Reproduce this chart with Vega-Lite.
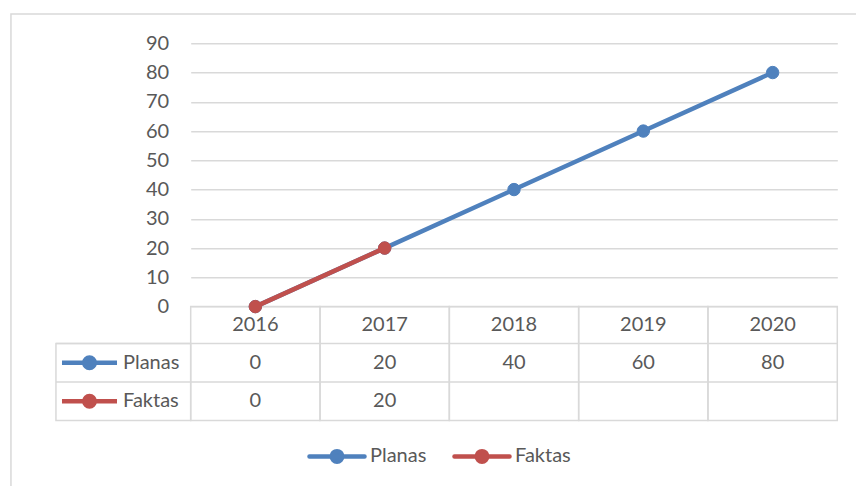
{
  "$schema": "https://vega.github.io/schema/vega-lite/v6.json",
  "width": 646.6,
  "height": 377.2,
  "autosize": {"type": "none"},
  "padding": {"left": 190.7, "top": 43.3, "right": 18.7, "bottom": 65.5},
  "background": "white",
  "config": {
    "view": {"stroke": null},
    "font": "Lato",
    "axisY": {
      "domain": false, "ticks": false, "tickSize": 0,
      "labelPadding": 22, "labelFont": "Lato", "labelFontSize": 20, "labelColor": "#595959",
      "grid": true, "gridColor": "#d9d9d9", "gridWidth": 1.5
    }
  },
  "data": {
    "values": [
      {"year": 2016, "series": "Planas", "value": 0},
      {"year": 2017, "series": "Planas", "value": 20},
      {"year": 2018, "series": "Planas", "value": 40},
      {"year": 2019, "series": "Planas", "value": 60},
      {"year": 2020, "series": "Planas", "value": 80},
      {"year": 2016, "series": "Faktas", "value": 0},
      {"year": 2017, "series": "Faktas", "value": 20}
    ]
  },
  "layer": [
    {
      "data": {"values": [{}]},
      "mark": {"type": "rect", "fill": "transparent", "stroke": "#d9d9d9", "strokeWidth": 1.5},
      "encoding": {
        "x": {"datum": 2014.11, "type": "quantitative", "scale": {"domain": [2015.5, 2020.5], "nice": false, "zero": false, "padding": 0}, "axis": null},
        "x2": {"datum": 2020.8},
        "y": {"datum": 100.0, "type": "quantitative", "scale": {"domain": [-38.94, 90], "nice": false, "zero": false, "padding": 0}, "axis": {"values": [0, 10, 20, 30, 40, 50, 60, 70, 80, 90], "title": null}},
        "y2": {"datum": -66}
      }
    },
    {
      "transform": [{"filter": "datum.series === 'Planas'"}],
      "mark": {"type": "bar", "orient": "vertical", "width": 129.32, "fill": "transparent", "stroke": "#d9d9d9", "strokeWidth": 1.5},
      "encoding": {
        "x": {"field": "year", "type": "quantitative", "axis": null},
        "y": {"datum": 0, "type": "quantitative", "axis": {"values": [0, 10, 20, 30, 40, 50, 60, 70, 80, 90], "title": null}},
        "y2": {"datum": -38.94}
      }
    },
    {
      "data": {"values": [{}]},
      "mark": {"type": "rule", "stroke": "#d9d9d9", "strokeWidth": 1.5},
      "encoding": {
        "x": {"datum": 2014.458, "type": "quantitative", "axis": null},
        "x2": {"datum": 2020.5},
        "y": {"datum": -12.62, "type": "quantitative", "axis": {"values": [0, 10, 20, 30, 40, 50, 60, 70, 80, 90], "title": null}}
      }
    },
    {
      "data": {"values": [{}]},
      "mark": {"type": "rule", "stroke": "#d9d9d9", "strokeWidth": 1.5},
      "encoding": {
        "x": {"datum": 2014.458, "type": "quantitative", "axis": null},
        "x2": {"datum": 2020.5},
        "y": {"datum": -25.78, "type": "quantitative", "axis": {"values": [0, 10, 20, 30, 40, 50, 60, 70, 80, 90], "title": null}}
      }
    },
    {
      "data": {"values": [{}]},
      "mark": {"type": "rect", "fill": "transparent", "stroke": "#d9d9d9", "strokeWidth": 1.5},
      "encoding": {
        "x": {"datum": 2014.458, "type": "quantitative", "axis": null},
        "x2": {"datum": 2015.5},
        "y": {"datum": -12.62, "type": "quantitative", "axis": {"values": [0, 10, 20, 30, 40, 50, 60, 70, 80, 90], "title": null}},
        "y2": {"datum": -38.94}
      }
    },
    {
      "transform": [{"filter": "datum.series === 'Planas'"}],
      "mark": {"type": "line", "strokeWidth": 4.5, "strokeCap": "round", "strokeJoin": "round"},
      "encoding": {
        "x": {"field": "year", "type": "quantitative", "axis": null},
        "y": {"field": "value", "type": "quantitative", "axis": {"values": [0, 10, 20, 30, 40, 50, 60, 70, 80, 90], "title": null}},
        "color": {
          "field": "series", "type": "nominal",
          "scale": {"domain": ["Planas", "Faktas"], "range": ["#4F81BD", "#C0504D"]},
          "legend": {
            "orient": "none", "legendX": 136.3, "legendY": 402.7, "direction": "horizontal", "title": null, "padding": 0,
            "symbolType": "M-3.67,0H3.67M0.7,0A0.7,0.7 0 1,1 -0.7,0A0.7,0.7 0 1,1 0.7,0Z",
            "symbolSize": 225, "symbolStrokeWidth": 4.5, "labelOffset": 23, "columnPadding": 18,
            "labelFont": "Lato", "labelFontSize": 20, "labelColor": "#595959",
            "encode": {"symbols": {"update": {"fill": {"scale": "color", "field": "value"}, "stroke": {"scale": "color", "field": "value"}, "strokeWidth": {"value": 4.5}, "strokeCap": {"value": "round"}, "opacity": {"value": 1}}}}
          }
        }
      }
    },
    {
      "transform": [{"filter": "datum.series === 'Planas'"}],
      "mark": {"type": "point", "filled": true, "opacity": 1, "size": 154, "shape": "circle", "strokeWidth": 1},
      "encoding": {
        "x": {"field": "year", "type": "quantitative", "axis": null},
        "y": {"field": "value", "type": "quantitative", "axis": {"values": [0, 10, 20, 30, 40, 50, 60, 70, 80, 90], "title": null}},
        "fill": {
          "field": "series", "type": "nominal", "sort": "descending",
          "scale": {"range": ["#4F81BD", "#C0504D"]},
          "legend": {
            "orient": "none", "legendX": -111.2, "legendY": 309.4, "direction": "vertical", "title": null, "padding": 0,
            "symbolType": "M-3.67,0H3.67M0.7,0A0.7,0.7 0 1,1 -0.7,0A0.7,0.7 0 1,1 0.7,0Z",
            "symbolSize": 225, "symbolStrokeWidth": 4.5, "labelOffset": 23.5, "rowPadding": 8.5,
            "labelFont": "Lato", "labelFontSize": 20, "labelColor": "#595959",
            "encode": {"symbols": {"update": {"strokeCap": {"value": "round"}, "opacity": {"value": 1}}}}
          }
        },
        "stroke": {
          "field": "series", "type": "nominal", "sort": "descending",
          "scale": {"range": ["#4F81BD", "#C0504D"]},
          "legend": {
            "orient": "none", "legendX": -111.2, "legendY": 309.4, "direction": "vertical", "title": null, "padding": 0,
            "symbolType": "M-3.67,0H3.67M0.7,0A0.7,0.7 0 1,1 -0.7,0A0.7,0.7 0 1,1 0.7,0Z",
            "symbolSize": 225, "symbolStrokeWidth": 4.5, "labelOffset": 23.5, "rowPadding": 8.5,
            "labelFont": "Lato", "labelFontSize": 20, "labelColor": "#595959",
            "encode": {"symbols": {"update": {"strokeCap": {"value": "round"}, "opacity": {"value": 1}}}}
          }
        }
      }
    },
    {
      "transform": [{"filter": "datum.series === 'Faktas'"}],
      "mark": {"type": "line", "strokeWidth": 4.5, "strokeCap": "round", "strokeJoin": "round"},
      "encoding": {
        "x": {"field": "year", "type": "quantitative", "axis": null},
        "y": {"field": "value", "type": "quantitative", "axis": {"values": [0, 10, 20, 30, 40, 50, 60, 70, 80, 90], "title": null}},
        "color": {
          "field": "series", "type": "nominal",
          "scale": {"domain": ["Planas", "Faktas"], "range": ["#4F81BD", "#C0504D"]},
          "legend": {
            "orient": "none", "legendX": 136.3, "legendY": 402.7, "direction": "horizontal", "title": null, "padding": 0,
            "symbolType": "M-3.67,0H3.67M0.7,0A0.7,0.7 0 1,1 -0.7,0A0.7,0.7 0 1,1 0.7,0Z",
            "symbolSize": 225, "symbolStrokeWidth": 4.5, "labelOffset": 23, "columnPadding": 18,
            "labelFont": "Lato", "labelFontSize": 20, "labelColor": "#595959",
            "encode": {"symbols": {"update": {"fill": {"scale": "color", "field": "value"}, "stroke": {"scale": "color", "field": "value"}, "strokeWidth": {"value": 4.5}, "strokeCap": {"value": "round"}, "opacity": {"value": 1}}}}
          }
        }
      }
    },
    {
      "transform": [{"filter": "datum.series === 'Faktas'"}],
      "mark": {"type": "point", "filled": true, "opacity": 1, "size": 154, "shape": "circle", "strokeWidth": 1},
      "encoding": {
        "x": {"field": "year", "type": "quantitative", "axis": null},
        "y": {"field": "value", "type": "quantitative", "axis": {"values": [0, 10, 20, 30, 40, 50, 60, 70, 80, 90], "title": null}},
        "fill": {
          "field": "series", "type": "nominal", "sort": "descending",
          "scale": {"range": ["#4F81BD", "#C0504D"]},
          "legend": {
            "orient": "none", "legendX": -111.2, "legendY": 309.4, "direction": "vertical", "title": null, "padding": 0,
            "symbolType": "M-3.67,0H3.67M0.7,0A0.7,0.7 0 1,1 -0.7,0A0.7,0.7 0 1,1 0.7,0Z",
            "symbolSize": 225, "symbolStrokeWidth": 4.5, "labelOffset": 23.5, "rowPadding": 8.5,
            "labelFont": "Lato", "labelFontSize": 20, "labelColor": "#595959",
            "encode": {"symbols": {"update": {"strokeCap": {"value": "round"}, "opacity": {"value": 1}}}}
          }
        },
        "stroke": {
          "field": "series", "type": "nominal", "sort": "descending",
          "scale": {"range": ["#4F81BD", "#C0504D"]},
          "legend": {
            "orient": "none", "legendX": -111.2, "legendY": 309.4, "direction": "vertical", "title": null, "padding": 0,
            "symbolType": "M-3.67,0H3.67M0.7,0A0.7,0.7 0 1,1 -0.7,0A0.7,0.7 0 1,1 0.7,0Z",
            "symbolSize": 225, "symbolStrokeWidth": 4.5, "labelOffset": 23.5, "rowPadding": 8.5,
            "labelFont": "Lato", "labelFontSize": 20, "labelColor": "#595959",
            "encode": {"symbols": {"update": {"strokeCap": {"value": "round"}, "opacity": {"value": 1}}}}
          }
        }
      }
    },
    {
      "transform": [{"filter": "datum.series === 'Planas'"}],
      "mark": {"type": "text", "font": "Lato", "fontSize": 20, "color": "#595959", "baseline": "middle", "align": "center"},
      "encoding": {
        "x": {"field": "year", "type": "quantitative", "axis": null},
        "y": {"datum": -6.3, "type": "quantitative", "axis": {"values": [0, 10, 20, 30, 40, 50, 60, 70, 80, 90], "title": null}},
        "text": {"field": "year", "type": "ordinal"}
      }
    },
    {
      "transform": [{"filter": "datum.series === 'Planas'"}],
      "mark": {"type": "text", "font": "Lato", "fontSize": 20, "color": "#595959", "baseline": "middle", "align": "center"},
      "encoding": {
        "x": {"field": "year", "type": "quantitative", "axis": null},
        "y": {"datum": -19.2, "type": "quantitative", "axis": {"values": [0, 10, 20, 30, 40, 50, 60, 70, 80, 90], "title": null}},
        "text": {"field": "value", "type": "quantitative"}
      }
    },
    {
      "transform": [{"filter": "datum.series === 'Faktas'"}],
      "mark": {"type": "text", "font": "Lato", "fontSize": 20, "color": "#595959", "baseline": "middle", "align": "center"},
      "encoding": {
        "x": {"field": "year", "type": "quantitative", "axis": null},
        "y": {"datum": -32.4, "type": "quantitative", "axis": {"values": [0, 10, 20, 30, 40, 50, 60, 70, 80, 90], "title": null}},
        "text": {"field": "value", "type": "quantitative"}
      }
    }
  ]
}
